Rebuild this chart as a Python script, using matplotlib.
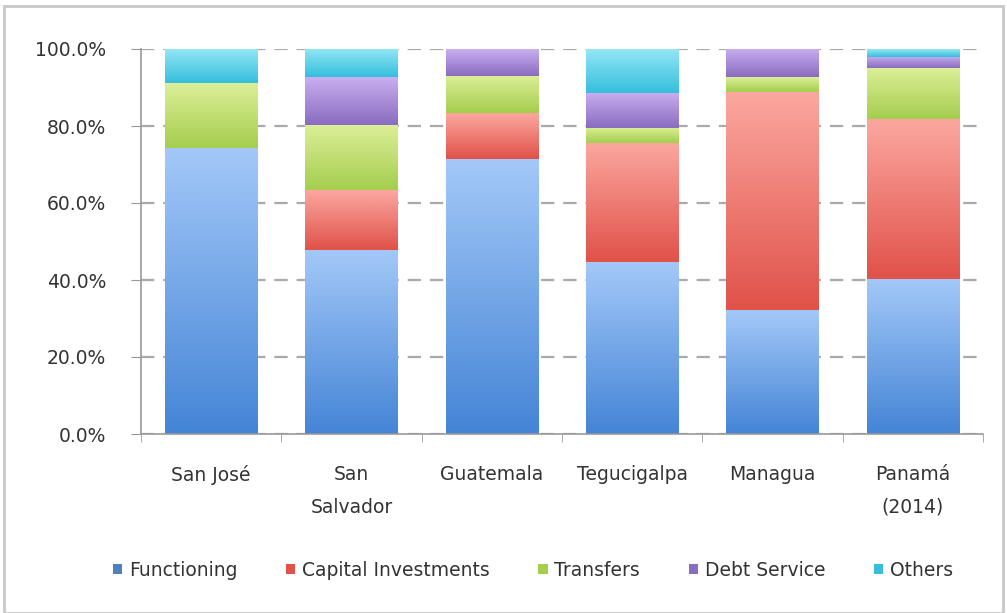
import numpy as np
import matplotlib
matplotlib.use("Agg")
import matplotlib.pyplot as plt
from matplotlib.colors import LinearSegmentedColormap
from matplotlib.patches import Rectangle

plt.rcParams['font.family'] = ['DejaVu Sans']

categories = ["San José", "San\nSalvador", "Guatemala", "Tegucigalpa", "Managua", "Panamá\n(2014)"]
functioning = [74.4, 47.9, 71.4, 44.6, 32.2, 40.3]
capital = [0.0, 15.5, 11.9, 31.1, 56.7, 41.5]
transfers = [16.8, 16.9, 9.8, 3.9, 3.7, 13.3]
debt = [0.0, 12.3, 6.9, 9.1, 7.4, 2.9]
others = [8.8, 7.4, 0.0, 11.3, 0.0, 2.0]
series_names = ["Functioning", "Capital Investments", "Transfers", "Debt Service", "Others"]
series = [functioning, capital, transfers, debt, others]
# (top light, bottom dark, legend colour)
grads = [("#a3c8f8", "#4585d6", "#4f81bd"),
         ("#fba79f", "#e0524a", "#e0524a"),
         ("#dcef98", "#a5cd4e", "#a5cd4e"),
         ("#c9aef0", "#8a6cc0", "#8a6cc0"),
         ("#94e6f5", "#35bfdd", "#35bfdd")]

FS = 13.5
TXT = "#333333"

fig = plt.figure(figsize=(10.07, 6.13), dpi=100)
ax = fig.add_axes([141/1007, 1-434/613, (983-141)/1007, (434-49)/613])

x = np.arange(len(categories))
bottom = np.zeros(len(categories))
for vals, name, (top_c, bot_c, leg_c) in zip(series, series_names, grads):
    v = np.array(vals) / 100.0
    bars = ax.bar(x, v, 0.66, bottom=bottom, color=leg_c, label=name, zorder=2, linewidth=0)
    cmap = LinearSegmentedColormap.from_list(name, [bot_c, top_c])
    grad = np.linspace(0, 1, 64).reshape(-1, 1)
    for b in bars:
        if b.get_height() <= 0:
            continue
        x0, y0 = b.get_x(), b.get_y()
        w, h = b.get_width(), b.get_height()
        ax.imshow(grad, extent=[x0, x0 + w, y0, y0 + h], origin='lower', cmap=cmap,
                  aspect='auto', zorder=2.5, interpolation='bicubic')
    bottom += v

ax.set_xlim(-0.5, len(categories) - 0.5)
ax.set_ylim(0, 1.0)
yt = np.arange(0, 1.01, 0.2)
ax.set_yticks(yt)
ax.set_yticklabels([f"{t*100:.1f}%" for t in yt], fontsize=FS, color=TXT)
ax.yaxis.grid(True, linestyle=(0, (6, 4)), color="#aaaaaa", linewidth=1.6, zorder=1)
ax.set_axisbelow(True)
ax.set_xticks(x)
ax.set_xticklabels(categories, fontsize=FS, color=TXT, linespacing=1.95)
ax.tick_params(axis='x', length=0, pad=22)
ax.set_xticks(np.arange(-0.5, len(categories), 1.0), minor=True)
ax.tick_params(axis='x', which='minor', length=6, color="#999999")
ax.tick_params(axis='y', length=7, color="#999999", pad=18)
for s in ["top", "right"]:
    ax.spines[s].set_visible(False)
ax.spines["left"].set_color("#999999")
ax.spines["bottom"].set_color("#999999")
ax.spines["left"].set_linewidth(1.2)
ax.spines["bottom"].set_linewidth(1.2)

handles, labels = ax.get_legend_handles_labels()
leg = fig.legend(handles, labels, loc="center", bbox_to_anchor=(533/1007, 1-570/613), ncol=5,
                 frameon=False, fontsize=FS, handlelength=0.5, handleheight=0.5,
                 handletextpad=0.35, columnspacing=2.6)
for t in leg.get_texts():
    t.set_color(TXT)

fig.patches.append(Rectangle((4/1007, 0.0), 1 - 8/1007, 1 - 6/613, transform=fig.transFigure,
                             fill=False, edgecolor="#c8c8c8", linewidth=2))

fig.savefig("out.png", dpi=100)
